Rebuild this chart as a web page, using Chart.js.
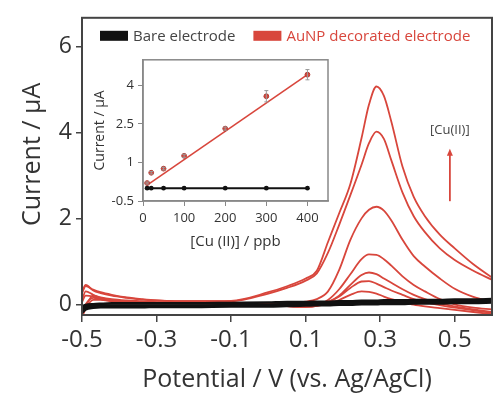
<!DOCTYPE html>
<html><head><meta charset="utf-8">
<script src="https://cdn.jsdelivr.net/npm/chart.js@4"></script>
<style>
html,body{margin:0;padding:0;background:#fff;}
#wrap{position:relative;width:500px;height:404px;overflow:hidden;}
#main{position:absolute;left:0;top:0;}
#inset{position:absolute;left:85px;top:48px;}
</style></head><body>
<div id="wrap">
<canvas id="main" width="500" height="404"></canvas>
<canvas id="inset" width="250" height="205"></canvas>
</div>
<script>
// ---------- main panel data (Potential / V vs Ag/AgCl, Current / µA) ----------
const potential = [-0.5,-0.49,-0.47,-0.45,-0.42,-0.38,-0.34,-0.3,-0.2,-0.1,0,0.05,0.1,0.13,0.16,0.19,0.22,0.25,0.27,0.29,0.31,0.33,0.36,0.39,0.42,0.46,0.5,0.55,0.6];
const aunp400 = [0.25,0.42,0.34,0.28,0.22,0.16,0.12,0.09,0.07,0.08,0.28,0.42,0.6,0.78,1.45,2.12,2.8,3.87,4.65,5.07,4.85,4.25,3.2,2.5,2.05,1.62,1.3,0.93,0.62];
const aunp300 = [0.3,0.45,0.32,0.26,0.2,0.15,0.11,0.09,0.07,0.07,0.25,0.38,0.55,0.72,1.2,1.85,2.54,3.25,3.75,4.02,3.85,3.35,2.6,2.05,1.68,1.3,1.03,0.78,0.57];
const aunp200 = [-0.25,-0.05,0.2,0.16,0.12,0.09,0.07,0.05,0.04,0.03,0.03,0.03,0.06,0.12,0.3,0.8,1.5,2.0,2.2,2.27,2.18,1.95,1.5,1.12,0.88,0.6,0.36,0.17,0.05];
const aunp100 = [0.1,0.3,0.22,0.15,0.1,0.07,0.05,0.04,0.03,0.02,0.0,-0.04,-0.05,-0.03,0.1,0.35,0.7,1.05,1.16,1.15,1.05,0.9,0.65,0.45,0.3,0.12,0.0,-0.08,-0.12];
const aunp50  = [-0.2,0.0,0.15,0.12,0.09,0.06,0.05,0.04,0.03,0.02,0.0,-0.04,-0.06,-0.04,0.05,0.2,0.45,0.68,0.74,0.7,0.6,0.5,0.35,0.22,0.12,0.02,-0.05,-0.12,-0.18];
const aunp20  = [0.05,0.2,0.18,0.12,0.08,0.06,0.05,0.04,0.03,0.02,0.0,-0.03,-0.05,-0.02,0.05,0.18,0.38,0.53,0.54,0.48,0.4,0.32,0.22,0.12,0.05,-0.02,-0.08,-0.14,-0.2];
const aunp10  = [-0.3,-0.1,0.1,0.1,0.07,0.05,0.04,0.03,0.02,0.01,-0.01,-0.04,-0.06,-0.04,0.02,0.1,0.22,0.3,0.29,0.25,0.18,0.12,0.05,-0.01,-0.05,-0.09,-0.13,-0.18,-0.23];
const bare1 = [-0.12,-0.07,-0.04,-0.03,-0.03,-0.03,-0.03,-0.03,-0.03,-0.02,-0.01,0.0,0.01,0.02,0.02,0.03,0.03,0.04,0.04,0.04,0.05,0.05,0.05,0.06,0.06,0.06,0.07,0.07,0.08];
const bare2 = [-0.05,-0.02,0.0,0.01,0.02,0.02,0.02,0.02,0.02,0.03,0.04,0.05,0.05,0.06,0.06,0.07,0.07,0.08,0.08,0.08,0.09,0.09,0.09,0.1,0.1,0.1,0.11,0.11,0.12];
const bare3 = [-0.2,-0.12,-0.08,-0.07,-0.07,-0.07,-0.07,-0.06,-0.06,-0.05,-0.05,-0.04,-0.03,-0.02,-0.02,-0.01,-0.01,0.0,0.0,0.0,0.01,0.01,0.01,0.02,0.02,0.02,0.03,0.03,0.04];
const xTicks = [-0.5,-0.3,-0.1,0.1,0.3,0.5];
const yTicks = [0,2,4,6];
const xTitle = 'Potential / V (vs. Ag/AgCl)';
const yTitle = 'Current / µA';
const legendLabels = ['Bare electrode','AuNP decorated electrode'];
const arrowLabel = '[Cu(II)]';
const arrowPotential = 0.487, arrowFrom = 2.4, arrowTo = 3.62, arrowLabelCurrent = 4.05;

// ---------- inset data ----------
const concentration = [10,20,50,100,200,300,400];
const aunpPeak = [0.2,0.6,0.76,1.26,2.32,3.58,4.42];
const aunpErr  = [0.04,0.05,0.05,0.06,0.06,0.22,0.2];
const barePeak = [0,0,0,0,0,0,0];
const fitConc = [10,400];
const fitCurrent = [0.12,4.42];
const insetXTicks = [0,100,200,300,400];
const insetYTicks = [-0.5,1,2.5,4];

// ---------- styling ----------
const RED = '#d8463c';
const BLACK = '#111111';
const TEXT = '#333333';
const AXIS = '#444444';
const FONT = '"Open Sans", sans-serif';
Chart.defaults.font.family = FONT;

const toXY = (xs, ys) => xs.map((x, i) => ({x, y: ys[i]}));

const framePlugin = {
  id: 'frame',
  afterDatasetsDraw(chart, args, opts) {
    const {ctx, chartArea: a} = chart;
    ctx.save();
    ctx.strokeStyle = opts.color; ctx.lineWidth = opts.width;
    ctx.strokeRect(a.left, a.top, a.right - a.left, a.bottom - a.top);
    ctx.restore();
  }
};

const legendPlugin = {
  id: 'cvLegend',
  afterDraw(chart) {
    const {ctx, chartArea: a} = chart;
    const items = [{label: legendLabels[0], box: BLACK, text: '#444'}, {label: legendLabels[1], box: RED, text: RED}];
    ctx.save();
    ctx.font = '15px ' + FONT;
    ctx.textBaseline = 'middle';
    const y = a.top + 18;
    let x = a.left + 18;
    items.forEach(it => {
      ctx.fillStyle = it.box;
      ctx.fillRect(x, y - 5, 28, 10);
      ctx.fillStyle = it.text;
      ctx.fillText(it.label, x + 33, y + 1);
      x += 33 + ctx.measureText(it.label).width + 18;
    });
    ctx.restore();
  }
};

// y-axis title, placed slightly above the axis centre as in the original figure
const yTitlePlugin = {
  id: 'yTitle',
  afterDraw(chart) {
    const {ctx, chartArea: a} = chart;
    ctx.save();
    ctx.translate(33, (a.top + a.bottom) / 2 - 12);
    ctx.rotate(-Math.PI / 2);
    ctx.font = '25px ' + FONT;
    ctx.fillStyle = TEXT;
    ctx.textAlign = 'center'; ctx.textBaseline = 'middle';
    ctx.fillText(yTitle, 0, 0);
    ctx.restore();
  }
};

const arrowPlugin = {
  id: 'cuArrow',
  afterDatasetsDraw(chart) {
    const {ctx, scales: {x, y}} = chart;
    const px = x.getPixelForValue(arrowPotential);
    const y0 = y.getPixelForValue(arrowFrom), y1 = y.getPixelForValue(arrowTo);
    ctx.save();
    ctx.strokeStyle = RED; ctx.fillStyle = RED; ctx.lineWidth = 1.8;
    ctx.beginPath(); ctx.moveTo(px, y0); ctx.lineTo(px, y1 + 5); ctx.stroke();
    ctx.beginPath(); ctx.moveTo(px, y1); ctx.lineTo(px - 3, y1 + 7); ctx.lineTo(px + 3, y1 + 7); ctx.closePath(); ctx.fill();
    ctx.fillStyle = '#444';
    ctx.font = '13px ' + FONT;
    ctx.textAlign = 'center'; ctx.textBaseline = 'middle';
    ctx.fillText(arrowLabel, px, y.getPixelForValue(arrowLabelCurrent));
    ctx.restore();
  }
};

const redSeries = [aunp400, aunp300, aunp200, aunp100, aunp50, aunp20, aunp10];
const blackSeries = [bare1, bare2, bare3];

new Chart(document.getElementById('main'), {
  type: 'line',
  data: {
    datasets: [
      ...blackSeries.map(ys => ({data: toXY(potential, ys), borderColor: BLACK, borderWidth: 2.6, pointRadius: 0, cubicInterpolationMode: 'monotone', order: 0})),
      ...redSeries.map(ys => ({data: toXY(potential, ys), borderColor: RED, borderWidth: 1.8, pointRadius: 0, cubicInterpolationMode: 'monotone', order: 1}))
    ]
  },
  options: {
    responsive: false, animation: false, devicePixelRatio: 1,
    layout: {padding: {left: 0, top: 14, right: 8, bottom: 0}},
    plugins: {legend: {display: false}, tooltip: {enabled: false}, frame: {color: AXIS, width: 2}},
    scales: {
      x: {
        type: 'linear', min: -0.5, max: 0.6,
        afterBuildTicks: s => { s.ticks = xTicks.map(v => ({value: v})); },
        afterFit: s => { s.height = 89; },
        grid: {drawOnChartArea: false, drawTicks: true, tickLength: 7, color: AXIS, lineWidth: 1.5},
        border: {display: true, color: AXIS, width: 2},
        ticks: {font: {size: 24}, color: TEXT, padding: 4, maxRotation: 0, autoSkip: false, callback: v => v.toFixed(1)},
        title: {display: true, text: xTitle, font: {size: 25}, color: TEXT, padding: {top: 0, bottom: 9}}
      },
      y: {
        type: 'linear', min: -0.25, max: 6.67,
        afterBuildTicks: s => { s.ticks = yTicks.map(v => ({value: v})); },
        afterFit: s => { s.width = 82; },
        grid: {drawOnChartArea: false, drawTicks: true, tickLength: 6, color: AXIS, lineWidth: 1.5},
        border: {display: true, color: AXIS, width: 2},
        ticks: {font: {size: 23}, color: TEXT, padding: 4, callback: v => String(v)},
        title: {display: false}
      }
    }
  },
  plugins: [framePlugin, arrowPlugin, legendPlugin, yTitlePlugin]
});

// ---------- inset ----------
const errorBarPlugin = {
  id: 'errBars',
  afterDatasetsDraw(chart) {
    const {ctx, scales: {x, y}} = chart;
    ctx.save();
    ctx.strokeStyle = '#999'; ctx.lineWidth = 1;
    concentration.forEach((c, i) => {
      const px = x.getPixelForValue(c);
      const yl = y.getPixelForValue(aunpPeak[i] - aunpErr[i]);
      const yh = y.getPixelForValue(aunpPeak[i] + aunpErr[i]);
      ctx.beginPath();
      ctx.moveTo(px, yl); ctx.lineTo(px, yh);
      ctx.moveTo(px - 2, yl); ctx.lineTo(px + 2, yl);
      ctx.moveTo(px - 2, yh); ctx.lineTo(px + 2, yh);
      ctx.stroke();
    });
    ctx.restore();
  }
};

new Chart(document.getElementById('inset'), {
  type: 'line',
  data: {
    datasets: [
      {data: toXY(concentration, barePeak), borderColor: BLACK, borderWidth: 2, pointRadius: 2.4, pointBorderWidth: 0, pointBackgroundColor: BLACK, order: 0},
      {data: toXY(concentration, aunpPeak), showLine: false, pointRadius: 2.4, pointBackgroundColor: RED, pointBorderColor: '#b03a32', pointBorderWidth: 1, order: 1},
      {data: toXY(fitConc, fitCurrent), borderColor: RED, borderWidth: 1.6, pointRadius: 0, order: 2}
    ]
  },
  options: {
    responsive: false, animation: false, devicePixelRatio: 1,
    layout: {padding: {left: 0, top: 9, right: 7, bottom: 0}},
    plugins: {legend: {display: false}, tooltip: {enabled: false}, frame: {color: '#888', width: 1.5}},
    scales: {
      x: {
        type: 'linear', min: 0, max: 450,
        afterBuildTicks: s => { s.ticks = insetXTicks.map(v => ({value: v})); },
        afterFit: s => { s.height = 52; },
        grid: {drawOnChartArea: false, drawTicks: true, tickLength: 5, color: '#888', lineWidth: 1},
        border: {display: true, color: '#888', width: 1.5},
        ticks: {font: {size: 13}, color: TEXT, padding: 4, maxRotation: 0, autoSkip: false, callback: v => String(v)},
        title: {display: true, text: '[Cu (II)] / ppb', font: {size: 15}, color: TEXT, padding: {top: 0, bottom: 2}}
      },
      y: {
        type: 'linear', min: -0.5, max: 5.0,
        afterBuildTicks: s => { s.ticks = insetYTicks.map(v => ({value: v})); },
        afterFit: s => { s.width = 58; },
        grid: {drawOnChartArea: false, drawTicks: true, tickLength: 5, color: '#888', lineWidth: 1},
        border: {display: true, color: '#888', width: 1.5},
        ticks: {font: {size: 13}, color: TEXT, padding: 4, callback: v => String(v)},
        title: {display: true, text: 'Current / µA', font: {size: 14}, color: TEXT, padding: {top: 7, bottom: 0}}
      }
    }
  },
  plugins: [framePlugin, errorBarPlugin]
});
</script>
</body></html>
